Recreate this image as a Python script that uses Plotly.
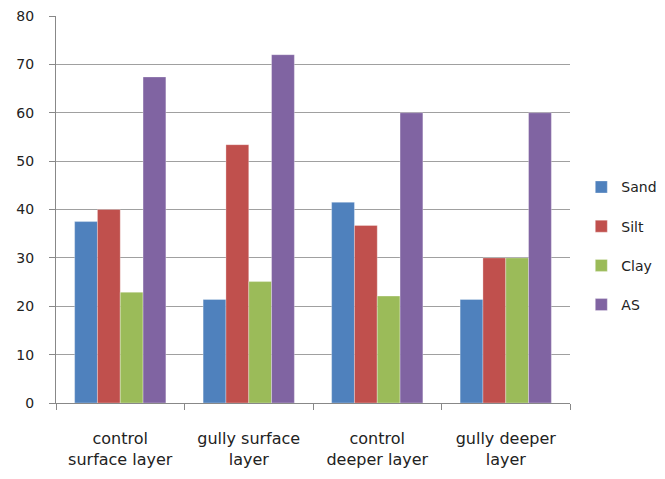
import plotly.graph_objects as go

categories = ["control<br>surface layer", "gully surface<br>layer",
              "control<br>deeper layer", "gully deeper<br>layer"]
series_names = ["Sand", "Silt", "Clay", "AS"]
sand = [37.5, 21.4, 41.5, 21.4]
silt = [40.0, 53.4, 36.7, 30.0]
clay = [22.9, 25.1, 22.1, 30.0]
as_vals = [67.4, 72.0, 60.0, 60.0]
y_ticks = [0, 10, 20, 30, 40, 50, 60, 70, 80]

colors = ["#4F81BD", "#C0504D", "#9BBB59", "#8064A2"]
values = [sand, silt, clay, as_vals]

fig = go.Figure()
for name, vals, col in zip(series_names, values, colors):
    fig.add_trace(go.Bar(
        x=categories, y=vals, name=name, legendgroup=name,
        marker=dict(color=col, line=dict(width=0.6, color="rgba(255,255,255,0.5)")),
    ))

axis_grey = "#888888"
fig.update_layout(
    width=665, height=479,
    margin=dict(l=56, r=95, t=16, b=76, autoexpand=False),
    paper_bgcolor="white", plot_bgcolor="white",
    barmode="group", bargap=0.29, bargroupgap=0,
    font=dict(family="DejaVu Sans, sans-serif", color="#222222", size=14),
    legend=dict(x=1.022, y=0.406, xanchor="left", yanchor="middle",
                font=dict(size=14), tracegroupgap=18,
                itemwidth=30, bgcolor="rgba(0,0,0,0)"),
    showlegend=True,
)
fig.update_xaxes(
    showline=True, linecolor=axis_grey, linewidth=1.2,
    ticks="outside", tickson="boundaries", ticklen=6, tickcolor=axis_grey,
    tickfont=dict(size=16), showgrid=False, ticklabelstandoff=21,
)
fig.update_yaxes(
    range=[0, 80], tickvals=y_ticks,
    showline=True, linecolor=axis_grey, linewidth=1.2,
    ticks="outside", ticklen=6, tickcolor=axis_grey,
    showgrid=True, gridcolor="#A0A0A0", gridwidth=1.2,
    tickfont=dict(size=14), zeroline=False, ticklabelstandoff=12,
)

fig.write_html("out.html")
